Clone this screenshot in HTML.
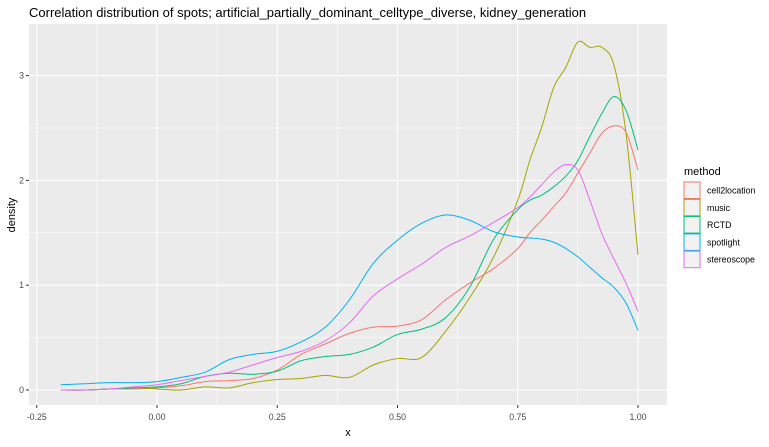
<!DOCTYPE html>
<html><head><meta charset="utf-8"><style>
body{margin:0;background:#fff;font-family:"Liberation Sans",Arial,sans-serif}
svg text{font-family:"Liberation Sans",Arial,sans-serif}
</style></head><body>
<svg id="chart" width="769" height="442" xmlns="http://www.w3.org/2000/svg">
<rect width="769" height="442" fill="#fff"/>
<text x="29" y="17" font-size="13" fill="#000">Correlation distribution of spots; artificial_partially_dominant_celltype_diverse, kidney_generation</text>
<rect x="29" y="24" width="638" height="381" fill="#EBEBEB"/>
<g id="grid"></g><g id="axes"></g><g id="series"></g><g id="legend"></g>
<text x="348" y="436" font-size="11" text-anchor="middle">x</text>
<text transform="translate(15,215) rotate(-90)" font-size="11" text-anchor="middle">density</text>
</svg>
<script>
const xGrid=[-0.2,-0.15,-0.1,-0.05,0,0.05,0.1,0.15,0.2,0.25,0.3,0.35,0.4,0.45,0.5,0.55,0.6,0.65,0.7,0.75,0.775,0.8,0.825,0.85,0.875,0.9,0.925,0.95,0.975,1.0];
const seriesNames=["cell2location","music","RCTD","spotlight","stereoscope"];
const seriesColors=["#F8766D","#A3A500","#00BF7D","#00B0F6","#E76BF3"];
const cell2location=[0,0,0.01,0.01,0.02,0.04,0.08,0.09,0.11,0.19,0.34,0.44,0.54,0.60,0.61,0.67,0.86,1.02,1.16,1.35,1.50,1.62,1.75,1.88,2.07,2.26,2.45,2.52,2.46,2.10];
const music=[0,0,0.01,0.02,0.01,0.00,0.03,0.02,0.07,0.10,0.11,0.14,0.12,0.24,0.30,0.31,0.56,0.88,1.27,1.81,2.19,2.51,2.89,3.08,3.32,3.27,3.27,3.10,2.45,1.29];
const rctd=[0,0,0.01,0.02,0.03,0.06,0.13,0.16,0.15,0.18,0.28,0.32,0.34,0.41,0.53,0.58,0.69,0.98,1.44,1.72,1.81,1.86,1.94,2.04,2.19,2.42,2.64,2.80,2.67,2.29];
const spotlight=[0.05,0.06,0.07,0.07,0.08,0.12,0.17,0.29,0.34,0.37,0.46,0.60,0.86,1.21,1.43,1.59,1.67,1.62,1.51,1.46,1.45,1.44,1.41,1.35,1.27,1.17,1.07,0.98,0.83,0.57];
const stereoscope=[0,0,0.01,0.03,0.05,0.09,0.13,0.17,0.24,0.31,0.37,0.47,0.64,0.90,1.06,1.20,1.36,1.47,1.60,1.74,1.84,1.96,2.08,2.15,2.10,1.81,1.49,1.25,1.02,0.75];
const xTicks=[-0.25,0,0.25,0.5,0.75,1.0];
const xTickLabels=["-0.25","0.00","0.25","0.50","0.75","1.00"];
const yTicks=[0,1,2,3];
const yTickLabels=["0","1","2","3"];

const NS="http://www.w3.org/2000/svg";
const X=v=>157+v*481;
const Y=v=>390-v*104.8;
function mk(tag,attrs,parent){const e=document.createElementNS(NS,tag);for(const k in attrs)e.setAttribute(k,attrs[k]);parent.appendChild(e);return e;}
const grid=document.getElementById('grid'),axes=document.getElementById('axes'),ser=document.getElementById('series'),leg=document.getElementById('legend');
// minor grid
for(let i=0;i<xTicks.length-1;i++){const m=(xTicks[i]+xTicks[i+1])/2;const l=mk('line',{x1:X(m),x2:X(m),y1:24,y2:405,stroke:'#fff','stroke-width':0.55},grid);

}
for(let i=0;i<yTicks.length;i++){const m=yTicks[i]+0.5;const l=mk('line',{x1:29,x2:667,y1:Y(m),y2:Y(m),stroke:'#fff','stroke-width':0.55},grid);

}
xTicks.forEach((t,i)=>{const l=mk('line',{x1:X(t),x2:X(t),y1:24,y2:405,stroke:'#fff','stroke-width':1.1},grid);


const tk=mk('line',{x1:X(t),x2:X(t),y1:405,y2:408,stroke:'#333','stroke-width':1},axes);


const tx=mk('text',{x:X(t),y:420,'font-size':8.8,fill:'#4D4D4D','text-anchor':'middle'},axes);tx.textContent=xTickLabels[i];

});
yTicks.forEach((t,i)=>{const l=mk('line',{x1:29,x2:667,y1:Y(t),y2:Y(t),stroke:'#fff','stroke-width':1.1},grid);


const tk=mk('line',{x1:26,x2:29,y1:Y(t),y2:Y(t),stroke:'#333','stroke-width':1},axes);


const tx=mk('text',{x:24,y:Y(t)+3,'font-size':8.8,fill:'#4D4D4D','text-anchor':'end'},axes);tx.textContent=yTickLabels[i];

});
function pathFor(vals){const p=vals.map((v,i)=>[X(xGrid[i]),Y(v)]);let d='M'+p[0][0]+','+p[0][1];
for(let i=0;i<p.length-1;i++){const p0=p[Math.max(0,i-1)],p1=p[i],p2=p[i+1],p3=p[Math.min(p.length-1,i+2)];
const t=1/6;const c1=[p1[0]+(p2[0]-p0[0])*t,p1[1]+(p2[1]-p0[1])*t],c2=[p2[0]-(p3[0]-p1[0])*t,p2[1]-(p3[1]-p1[1])*t];
d+=` C${c1[0]},${c1[1]} ${c2[0]},${c2[1]} ${p2[0]},${p2[1]}`;}return d;}
const allData=[cell2location,music,rctd,spotlight,stereoscope];
allData.forEach((vals,i)=>{const pth=mk('path',{d:pathFor(vals),fill:'none',stroke:seriesColors[i],'stroke-width':1},ser);

});
const lt=mk('text',{x:684,y:175,'font-size':11},leg);lt.textContent='method';


seriesNames.forEach((n,i)=>{const y0=182+i*17.3;
const g=mk('g',{},leg);


mk('rect',{x:684,y:y0,width:16,height:16.5,fill:'#F2F2F2',stroke:seriesColors[i],'stroke-width':1},g);
const t=mk('text',{x:707,y:y0+11.5,'font-size':8.8,fill:'#000'},g);t.textContent=n;});
</script>
</body></html>
